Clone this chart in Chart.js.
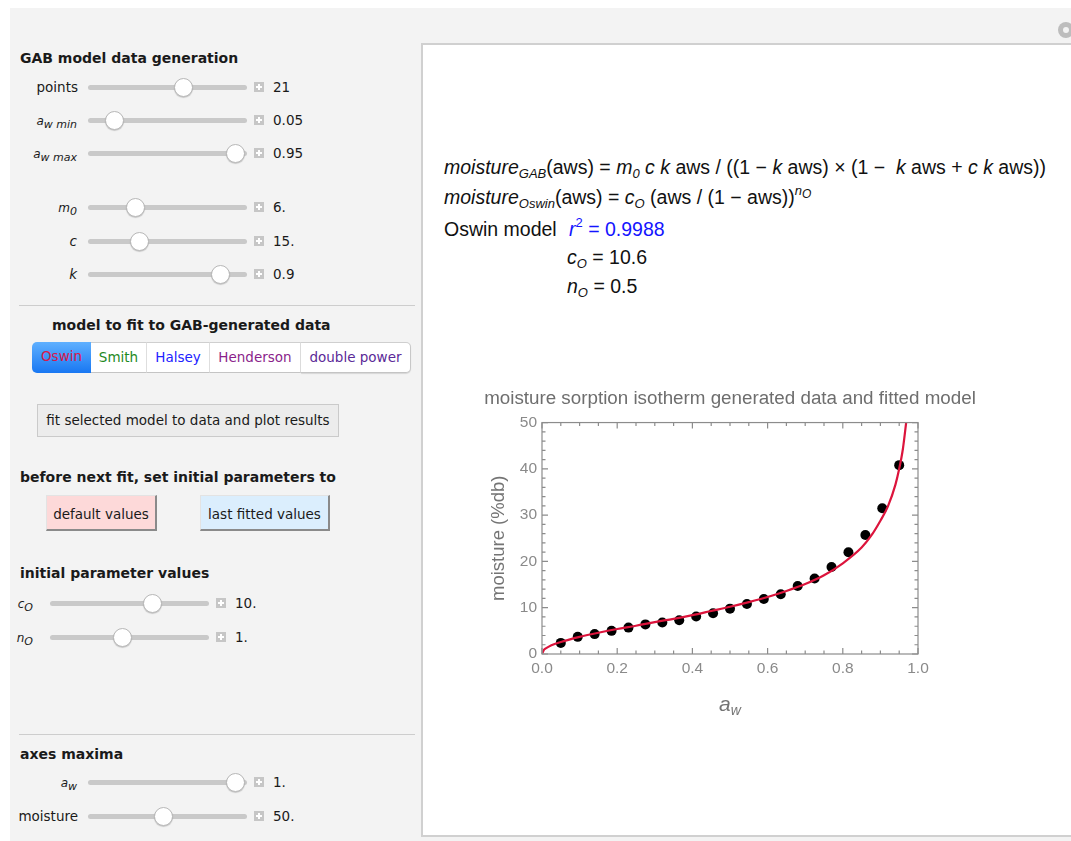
<!DOCTYPE html>
<html><head><meta charset="utf-8">
<script src="https://cdn.jsdelivr.net/npm/chart.js@4.4.0/dist/chart.umd.min.js"></script>
<style>
html,body{margin:0;padding:0;background:#fff;width:1071px;height:841px;overflow:hidden;position:relative;font-family:"DejaVu Sans",sans-serif;color:#1a1a1a}
#panel{position:absolute;left:10px;top:8px;width:1061px;height:833px;background:#f3f3f3}
.h{position:absolute;font-weight:bold;font-size:14px;white-space:nowrap;line-height:18px}
.lbl{position:absolute;font-size:13.5px;text-align:right;white-space:nowrap;line-height:18px}
.track{position:absolute;height:5px;background:#c9c9c9;border-radius:3px}
.thumb{position:absolute;width:19px;height:19px;border-radius:50%;background:#fff;border:1px solid #b8b8b8;box-shadow:0 1px 1px rgba(0,0,0,.18);box-sizing:border-box}
.plus{position:absolute;width:10px;height:10px;background:#c6c6c6}
.plus:before{content:"";position:absolute;left:2px;top:4px;width:6px;height:2px;background:#fff}
.plus:after{content:"";position:absolute;left:4px;top:2px;width:2px;height:6px;background:#fff}
.val{position:absolute;font-size:13.5px;white-space:nowrap;line-height:18px}
.sep{position:absolute;height:1px;background:#cdcdcd}
.seg{position:absolute;top:342px;height:31px;box-sizing:border-box;font-size:13.5px;line-height:29px;text-align:center;background:#fff;border-top:1px solid #cfcfcf;border-bottom:1px solid #c4c4c4;border-right:1px solid #dedede}
.btn{position:absolute;box-sizing:border-box;font-size:13.5px;text-align:center;white-space:nowrap}
#box{position:absolute;left:421px;top:43px;width:680px;height:794px;background:#fff;border:2px solid #d0d0d0;box-sizing:border-box}
.f{position:absolute;left:444px;font-family:"Liberation Sans",Arial,sans-serif;font-size:19.5px;white-space:nowrap;line-height:22px;color:#111}
.f sub{font-size:13px;vertical-align:-4px;line-height:0}
.f sup{font-size:13px;vertical-align:9px;line-height:0}
#chartwrap{position:absolute;left:450px;top:380px;width:560px;height:360px}
</style></head>
<body>
<div id="panel"></div>
<div id="ui"></div>
<div id="box"></div>
<div style="position:absolute;left:1058px;top:22px;width:16px;height:16px;border-radius:50%;background:#bdbdbd"></div>
<div style="position:absolute;left:1063px;top:27px;width:6px;height:6px;border-radius:50%;background:#f3f3f3"></div>

<div class="f" style="top:156px"><i>moisture</i><sub><i>GAB</i></sub>(aws) = <i>m</i><sub><i>0</i></sub> <i>c k</i> aws / ((1 − <i>k</i> aws) × (1 − &nbsp;<i>k</i> aws + <i>c k</i> aws))</div>
<div class="f" style="top:186px"><i>moisture</i><sub><i>Oswin</i></sub>(aws) = <i>c</i><sub><i>O</i></sub> (aws / (1 − aws))<sup><i>n</i><sub style="font-size:12px;vertical-align:-3px"><i>O</i></sub></sup></div>
<div class="f" style="top:218px">Oswin model</div>
<div class="f" style="top:218px;left:569px;color:#1414ff"><i>r</i><sup>2</sup> = 0.9988</div>
<div class="f" style="top:246px;left:567px"><i>c</i><sub><i>O</i></sub> = 10.6</div>
<div class="f" style="top:275px;left:567px"><i>n</i><sub><i>O</i></sub> = 0.5</div>

<div id="chartwrap"><canvas id="c" width="560" height="360"></canvas></div>

<script>
// ---- data ----
const pointsAw = [0.05,0.095,0.14,0.185,0.23,0.275,0.32,0.365,0.41,0.455,0.5,0.545,0.59,0.635,0.68,0.725,0.77,0.815,0.86,0.905,0.95];
const pointsMoisture = [2.4,3.7,4.3,5.0,5.7,6.4,6.8,7.3,8.1,8.8,9.8,10.8,11.9,12.9,14.7,16.3,18.8,22.0,25.7,31.5,40.8];
const fitAw = [0,0.005,0.01,0.025,0.05,0.1,0.15,0.2,0.25,0.3,0.35,0.4,0.45,0.5,0.55,0.6,0.65,0.7,0.75,0.8,0.85,0.875,0.9,0.92,0.94,0.95,0.96,0.97];
const fitMoisture = [0,0.9,1.2,1.9,2.6,3.7,4.6,5.4,6.1,6.9,7.6,8.4,9.3,10.2,11.2,12.3,13.6,15.1,17.0,19.6,23.0,25.5,28.8,31.9,36.6,40.0,44.4,51.0];
const xTickValues = [0,0.2,0.4,0.6,0.8,1.0];
const yTickValues = [0,10,20,30,40,50];
const chartTitle = "moisture sorption isotherm generated data and fitted model";
const yAxisTitle = "moisture (%db)";

// ---- left control panel ----
const ui = document.getElementById('ui');
function add(html){ ui.insertAdjacentHTML('beforeend', html); }
function slider(y, labelHtml, labelRight, tL, tR, thumbX, value){
  add(`<div class="lbl" style="right:${1071-labelRight}px;top:${y-9}px">${labelHtml}</div>`);
  add(`<div class="track" style="left:${tL}px;width:${tR-tL}px;top:${y-2.5}px"></div>`);
  add(`<div class="thumb" style="left:${thumbX-9.5}px;top:${y-9.5}px"></div>`);
  add(`<div class="plus" style="left:${tR+7}px;top:${y-5}px"></div>`);
  add(`<div class="val" style="left:${tR+26}px;top:${y-9}px">${value}</div>`);
}
add(`<div class="h" style="left:20px;top:49px">GAB model data generation</div>`);
const sub = (a,b)=>`<i style="font-size:12px">${a}<sub style="font-size:11px;vertical-align:-3px">${b}</sub></i>`;
slider(87,'points',78,88,247,183,'21');
slider(120,sub('a','w min'),77,88,247,114,'0.05');
slider(153,sub('a','w max'),77,88,247,235.5,'0.95');
slider(207,sub('m','0'),77,88,247,135,'6.');
slider(241,'<i>c</i>',77,88,247,139.5,'15.');
slider(274,'<i>k</i>',77,88,247,220,'0.9');
add(`<div class="sep" style="left:19px;width:396px;top:305px"></div>`);
add(`<div class="h" style="left:52px;top:316px">model to fit to GAB-generated data</div>`);
add(`<div class="seg" style="left:32px;width:59px;border:none;border-radius:5px 0 0 5px;background:linear-gradient(#5fb0ff,#1877f2);color:#d8174a">Oswin</div>`);
add(`<div class="seg" style="left:91px;width:56px;color:#1f8a1f">Smith</div>`);
add(`<div class="seg" style="left:147px;width:63px;color:#2222ff">Halsey</div>`);
add(`<div class="seg" style="left:210px;width:91px;color:#8b1f8b">Henderson</div>`);
add(`<div class="seg" style="left:301px;width:110px;color:#5b2a98;border-right:1px solid #c8c8c8;border-radius:0 5px 5px 0;box-shadow:0 1px 1px rgba(0,0,0,.12)">double power</div>`);
add(`<div class="btn" style="left:37px;top:404px;width:302px;height:33px;line-height:31px;background:#ececec;border:1px solid #cacaca">fit selected model to data and plot results</div>`);
add(`<div class="h" style="left:20px;top:468px">before next fit, set initial parameters to</div>`);
add(`<div class="btn" style="left:46px;top:495px;width:111px;height:36px;line-height:36px;background:#fdd9d9;border-right:2px solid #8a8a8a;border-bottom:2px solid #8a8a8a;border-left:1px solid #e3e3e3;border-top:1px solid #e3e3e3">default values</div>`);
add(`<div class="btn" style="left:200px;top:495px;width:130px;height:36px;line-height:36px;background:#dbeefd;border-right:2px solid #8a8a8a;border-bottom:2px solid #8a8a8a;border-left:1px solid #e3e3e3;border-top:1px solid #e3e3e3">last fitted values</div>`);
add(`<div class="h" style="left:20px;top:564px">initial parameter values</div>`);
slider(603,sub('c','O'),33,50,209,152,'10.');
slider(637,sub('n','O'),33,50,209,122,'1.');
add(`<div class="sep" style="left:19px;width:396px;top:734px"></div>`);
add(`<div class="h" style="left:20px;top:745px">axes maxima</div>`);
slider(782,sub('a','w'),77,88,247,235.5,'1.');
slider(816,'moisture',78,88,247,163,'50.');

// ---- chart ----
const FONT = '"Liberation Sans", Arial, sans-serif';
const frameTicks = {
  id: 'frameTicks',
  afterDatasetsDraw(chart){
    const {ctx, chartArea:a, scales:{x, y}} = chart;
    ctx.save();
    ctx.strokeStyle = '#8c8c8c';
    ctx.lineWidth = 1.2;
    ctx.strokeRect(a.left, a.top, a.right - a.left, a.bottom - a.top);
    ctx.beginPath();
    for (let i = 0; i <= 20; i++) {
      const v = i * 0.05; const px = x.getPixelForValue(v);
      const L = (i % 4 === 0) ? 6 : 3.5;
      ctx.moveTo(px, a.bottom); ctx.lineTo(px, a.bottom - L);
      ctx.moveTo(px, a.top); ctx.lineTo(px, a.top + L);
    }
    for (let i = 0; i <= 25; i++) {
      const v = i * 2; const py = y.getPixelForValue(v);
      const L = (i % 5 === 0) ? 6 : 3.5;
      ctx.moveTo(a.left, py); ctx.lineTo(a.left + L, py);
      ctx.moveTo(a.right, py); ctx.lineTo(a.right - L, py);
    }
    ctx.stroke();
    // axis titles
    ctx.fillStyle = '#747474';
    ctx.textAlign = 'center'; ctx.textBaseline = 'middle';
    ctx.save();
    ctx.translate(a.left - 43, (a.top + a.bottom) / 2);
    ctx.rotate(-Math.PI / 2);
    ctx.font = '18.5px ' + FONT;
    ctx.fillText(yAxisTitle, 0, 0);
    ctx.restore();
    const cx = (a.left + a.right) / 2;
    ctx.textBaseline = 'alphabetic';
    ctx.textAlign = 'left';
    ctx.font = 'italic 21px ' + FONT;
    const wa = ctx.measureText('a').width;
    ctx.font = 'italic 14px ' + FONT;
    const ww = ctx.measureText('w').width;
    const sx = cx - (wa + ww) / 2;
    ctx.font = 'italic 21px ' + FONT;
    ctx.fillText('a', sx, a.bottom + 57);
    ctx.font = 'italic 14px ' + FONT;
    ctx.fillText('w', sx + wa, a.bottom + 61);
    ctx.restore();
  }
};

new Chart(document.getElementById('c'), {
  type: 'scatter',
  data: {
    datasets: [
      {
        label: 'Oswin fit',
        data: fitAw.map((v, i) => ({x: v, y: fitMoisture[i]})),
        showLine: true, pointRadius: 0, borderColor: '#dc143c', borderWidth: 2.2,
        cubicInterpolationMode: 'monotone', order: 0
      },
      {
        label: 'GAB data',
        data: pointsAw.map((v, i) => ({x: v, y: pointsMoisture[i]})),
        pointRadius: 5, pointBackgroundColor: '#000', pointBorderColor: '#000', pointBorderWidth: 0, order: 1
      }
    ]
  },
  options: {
    responsive: false, animation: false,
    layout: {padding: 0},
    plugins: {
      legend: {display: false}, tooltip: {enabled: false},
      title: {display: true, text: chartTitle, color: '#6e6e6e',
              font: {family: FONT, size: 18.8, weight: 'normal'}, padding: {top: 8, bottom: 12}}
    },
    scales: {
      x: {
        type: 'linear', min: 0, max: 1,
        afterBuildTicks: s => { s.ticks = xTickValues.map(v => ({value: v})); },
        afterFit: s => { s.height = 86; },
        grid: {display: false, drawTicks: false}, border: {display: false},
        ticks: {color: '#8a8a8a', font: {family: FONT, size: 15.5}, padding: 5, maxRotation: 0,
                callback: v => v.toFixed(1)}
      },
      y: {
        type: 'linear', min: 0, max: 50,
        afterBuildTicks: s => { s.ticks = yTickValues.map(v => ({value: v})); },
        afterFit: s => { s.width = 92; },
        grid: {display: false, drawTicks: false}, border: {display: false},
        ticks: {color: '#8a8a8a', font: {family: FONT, size: 15.5}, padding: 5,
                callback: v => String(v)}
      },
      yRight: {
        type: 'linear', position: 'right', min: 0, max: 50,
        afterFit: s => { s.width = 92; },
        grid: {display: false, drawTicks: false}, border: {display: false},
        ticks: {display: false}
      }
    }
  },
  plugins: [frameTicks]
});
</script>
</body></html>
